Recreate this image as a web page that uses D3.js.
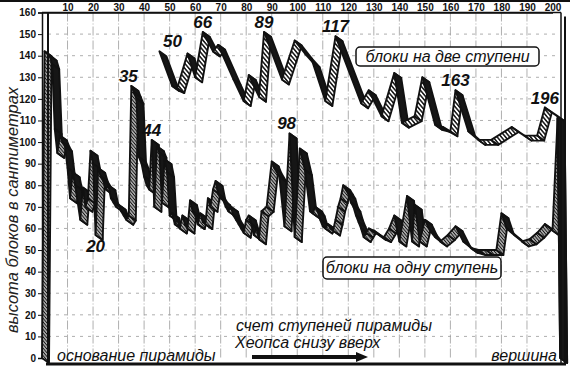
<!DOCTYPE html>
<html>
<head>
<meta charset="utf-8">
<script src="https://cdn.jsdelivr.net/npm/d3@7"></script>
<style>
body { margin: 0; background: #fff; }
svg { display: block; font-family: "Liberation Sans", Arial, sans-serif; }
</style>
</head>
<body>
<svg width="570" height="379"></svg>
<script>
// steps counted from the base of the pyramid (top axis) and block height in cm (left axis)
var xTicks = d3.range(10, 201, 10);
var yTicks = d3.range(0, 161, 10);

// blocks one step high
var oneStepSteps = [0, 1, 3, 4, 5, 6, 7, 8, 9, 10, 11, 12, 13, 14, 15, 16, 17, 18, 19, 20, 21, 22, 23, 24, 25, 26, 27, 28, 29, 30,
	31, 32, 33, 34, 35, 36, 37, 38, 39, 40, 41, 42, 43, 44, 45, 46, 47, 48, 49, 50, 51, 52, 53, 54, 55, 56, 57, 58, 59, 60,
	61, 62, 63, 64, 65, 66, 67, 68, 69, 70, 71, 72, 73, 74, 75, 76, 77, 78, 79, 80, 81, 82, 83, 84, 85, 86, 88, 90, 91, 93,
	95, 97, 99, 101, 103, 105, 106, 107, 108, 109, 110, 111, 112, 113, 114, 115, 116, 117, 118, 119, 120, 121, 122, 123, 124, 125, 126, 127, 128, 130,
	132, 134, 136, 138, 140, 143, 145, 146, 148, 150, 152, 154, 156, 159, 162, 165, 168, 171, 174, 178, 180, 182, 185, 188, 191, 194,
	197, 200, 202, 203];
var oneStepValues = [0, 142, 140, 136, 106, 95, 103, 100, 98, 88, 74, 86, 80, 72, 64, 79, 70, 74, 96, 90, 57, 88, 84, 82, 78, 80, 74, 72, 70, 71,
	68, 66, 64, 66, 126, 123, 120, 93, 90, 84, 80, 78, 101, 70, 98, 95, 72, 92, 86, 66, 67, 62, 64, 60, 66, 62, 60, 73, 68, 66,
	62, 67, 63, 62, 74, 70, 78, 82, 76, 74, 73, 70, 68, 70, 66, 64, 62, 60, 58, 64, 66, 62, 57, 60, 55, 68, 70, 91, 88, 84,
	61, 104, 56, 97, 87, 68, 67, 70, 68, 64, 61, 60, 62, 60, 59, 64, 70, 74, 80, 78, 76, 72, 70, 66, 63, 60, 56, 58, 60, 59,
	57, 56, 60, 66, 54, 75, 54, 71, 54, 64, 59, 56, 54, 57, 61, 54, 51, 50, 50, 50, 67, 60, 57, 54, 55, 58,
	62, 59, 111, 0];

// blocks two steps high
var twoStepSteps = [46, 51, 53, 57, 60, 63, 67, 69, 75, 79, 81, 85, 87, 94, 99, 103, 106, 111, 115, 125,
	128, 133, 138, 141, 146, 149, 154, 157, 160, 162, 167, 171, 176, 184, 189, 194, 197, 202, 203];
var twoStepValues = [142, 126, 125, 141, 130, 151, 142, 145, 129, 119, 131, 121, 151, 129, 147, 141, 137, 119, 149, 118,
	124, 112, 132, 109, 112, 130, 108, 107, 105, 124, 105, 101, 101, 107, 103, 103, 116, 112, 0];

// step numbers written next to the peaks
var peakTexts = ["50", "66", "89", "117", "163", "196", "35", "44", "98", "20"];
var peakSteps = [46, 63, 87, 115, 162, 197, 35, 43, 97, 21];
var peakValues = [142, 151, 151, 149, 124, 116, 126, 101, 104, 57];

var svg = d3.select("svg");
var x = d3.scaleLinear().domain([0, 200]).range([42, 552.5]);
var y = d3.scaleLinear().domain([0, 160]).range([358, 12.5]);
var depth = [7, 5];

var defs = svg.append("defs");
function hatch(id, step, width) {
	var p = defs.append("pattern")
		.attr("id", id)
		.attr("patternUnits", "userSpaceOnUse")
		.attr("width", step)
		.attr("height", step)
		.attr("patternTransform", "rotate(-40)");
	p.append("rect").attr("width", step).attr("height", step).attr("fill", "#fff");
	p.append("line")
		.attr("x1", step / 2).attr("y1", 0)
		.attr("x2", step / 2).attr("y2", step)
		.attr("stroke", "#111")
		.attr("stroke-width", width);
}
hatch("hatchTwo", 3.2, 1.5);
hatch("hatchOne", 2.4, 1.4);

// top border of the picture
svg.append("rect").attr("x", 0).attr("y", 0).attr("width", 570).attr("height", 2).attr("fill", "#111");

// grid
var grid = svg.append("g").attr("stroke", "#9a9a9a").attr("stroke-width", 0.8);
grid.selectAll(".h").data(yTicks.filter(function(d){ return d > 0 && d < 160; })).enter()
	.append("line")
	.attr("stroke-dasharray", "3,5")
	.attr("x1", 48).attr("x2", 560)
	.attr("y1", function(d){ return y(d); })
	.attr("y2", function(d){ return y(d); });
grid.selectAll(".v").data(xTicks.filter(function(d){ return d < 200; })).enter()
	.append("line")
	.attr("stroke-dasharray", "9,2,1,2")
	.attr("x1", function(d){ return x(d); })
	.attr("x2", function(d){ return x(d); })
	.attr("y1", y(160)).attr("y2", y(0));

// axes
var yAxis = svg.append("g")
	.attr("transform", "translate(42,0)")
	.call(d3.axisLeft(y).tickValues(yTicks).tickSize(4).tickPadding(2));
var xAxis = svg.append("g")
	.attr("transform", "translate(0," + y(160) + ")")
	.call(d3.axisTop(x).tickValues(xTicks).tickSize(0).tickPadding(1.5));
svg.selectAll(".tick text")
	.attr("font-family", "'Liberation Sans', Arial, sans-serif")
	.attr("font-size", 10)
	.attr("font-weight", "bold")
	.attr("fill", "#111");
svg.selectAll(".domain").attr("stroke", "#111").attr("stroke-width", 1.5);
yAxis.selectAll(".tick line").attr("stroke", "#111");

// 3D ribbon: one parallelogram per segment, hatched when rising, dark when falling
function ribbon(steps, values, fillId) {
	var pts = steps.map(function(s, i){ return [x(s), y(values[i])]; });
	var g = svg.append("g");
	for (var i = 0; i < pts.length - 1; i++) {
		var a = pts[i], b = pts[i + 1];
		var quad = [a, b, [b[0] + depth[0], b[1] + depth[1]], [a[0] + depth[0], a[1] + depth[1]]];
		g.append("path")
			.attr("d", "M" + quad.join("L") + "Z")
			.attr("fill", b[1] <= a[1] ? "url(#" + fillId + ")" : "#161616")
			.attr("stroke", "#111")
			.attr("stroke-width", 1.9)
			.attr("stroke-linejoin", "round");
	}
}
ribbon(oneStepSteps, oneStepValues, "hatchOne");
ribbon(twoStepSteps, twoStepValues, "hatchTwo");

// frame of the box
var frame = svg.append("g").attr("stroke", "#111").attr("fill", "none");
frame.append("line").attr("x1", 48).attr("x2", 48).attr("y1", y(160)).attr("y2", 364).attr("stroke-width", 2);
frame.append("line").attr("x1", 42).attr("x2", 561).attr("y1", y(160)).attr("y2", y(160)).attr("stroke-width", 1.5);
frame.append("line").attr("x1", 561).attr("x2", 561).attr("y1", y(160)).attr("y2", 364).attr("stroke-width", 1.5);
frame.append("line").attr("x1", 565).attr("x2", 565).attr("y1", y(160) + 4).attr("y2", 365).attr("stroke-width", 2);
frame.append("line").attr("x1", 46).attr("x2", 566).attr("y1", 364).attr("y2", 364).attr("stroke-width", 3);

// peak labels
svg.append("g").selectAll("text").data(peakTexts).enter()
	.append("text")
	.attr("x", function(d, i){ return x(peakSteps[i]) + (d == "50" ? 13 : d == "35" || d == "98" ? -3 : 0); })
	.attr("y", function(d, i){ return y(peakValues[i]) + (d == "20" ? 17 : -4); })
	.attr("text-anchor", "middle")
	.attr("font-size", 17)
	.attr("font-weight", "bold")
	.attr("font-style", "italic")
	.attr("fill", "#111")
	.text(function(d){ return d; });

// legend boxes
function note(x0, y0, w, h, label) {
	svg.append("rect")
		.attr("x", x0).attr("y", y0).attr("width", w).attr("height", h)
		.attr("rx", 4)
		.attr("fill", "#fff")
		.attr("stroke", "#111")
		.attr("stroke-width", 1.5);
	svg.append("text")
		.attr("x", x0 + w / 2).attr("y", y0 + h / 2 + 5)
		.attr("text-anchor", "middle")
		.attr("font-size", 16)
		.attr("font-style", "italic")
		.attr("fill", "#111")
		.text(label);
}
note(356, 47, 183, 19, "блоки на две ступени");
note(323, 257, 178, 22, "блоки на одну ступень");

// captions
function caption(x0, y0, label, anchor) {
	svg.append("text")
		.attr("x", x0).attr("y", y0)
		.attr("text-anchor", anchor || "start")
		.attr("font-size", 16)
		.attr("font-style", "italic")
		.attr("fill", "#111")
		.text(label);
}
caption(236, 331, "счет ступеней пирамиды");
caption(235, 348, "Хеопса снизу вверх");
caption(57, 361, "основание пирамиды");
caption(557, 361, "вершина", "end");

svg.append("text")
	.attr("transform", "translate(18,210) rotate(-90)")
	.attr("text-anchor", "middle")
	.attr("font-size", 16.5)
	.attr("font-style", "italic")
	.attr("fill", "#222")
	.text("высота блоков в сантиметрах");

// arrow under the caption
svg.append("line")
	.attr("x1", 252).attr("x2", 358)
	.attr("y1", 357).attr("y2", 357)
	.attr("stroke", "#111")
	.attr("stroke-width", 4);
svg.append("path")
	.attr("d", "M356,352L368,357L356,362Z")
	.attr("fill", "#111");
</script>
</body>
</html>
